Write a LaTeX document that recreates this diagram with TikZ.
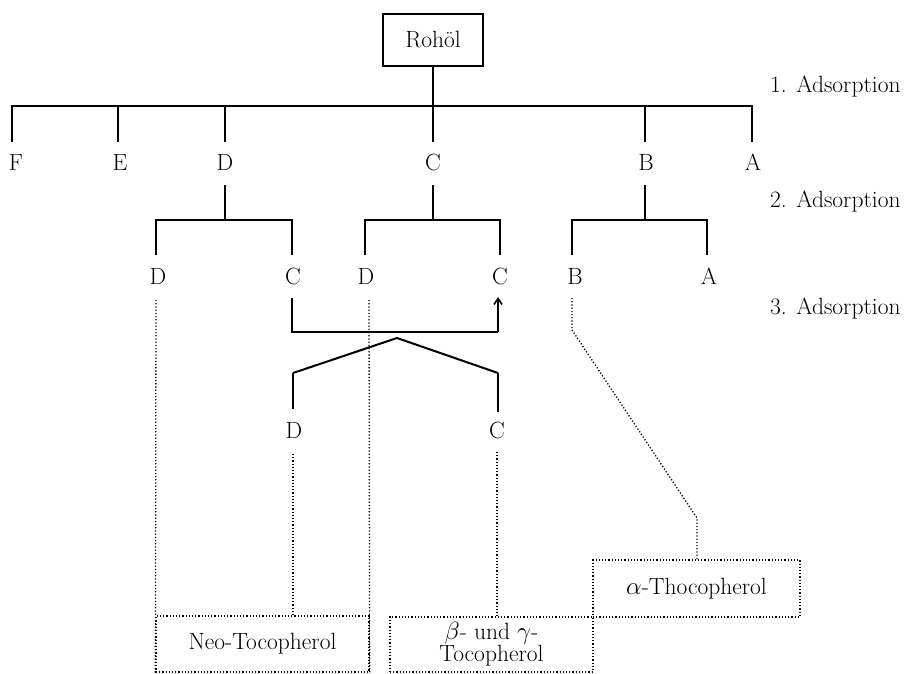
\documentclass[tikz,border=0pt]{standalone}
\usetikzlibrary{arrows.meta}
\begin{document}
\begin{tikzpicture}[x=1pt,y=-1pt,
  txt/.style={font=\fontsize{23.5}{27}\selectfont, inner sep=0pt},
  sol/.style={line width=2pt},
  dots/.style={line width=1.3pt, dash pattern=on 1.2pt off 2pt},
  dotbox/.style={draw, line width=1.3pt, dash pattern=on 1.2pt off 2pt, inner sep=0pt}]
\useasboundingbox (0,0) rectangle (907,673);

% root
\node[draw, sol, minimum width=100pt, minimum height=52pt, txt] (roh) at (433,40) {Rohöl};
\coordinate (j1) at (433,106);

% level 1 labels
\node[txt] (F1) at (16,162) {F};
\node[txt] (E1) at (120,162) {E};
\node[txt] (D1) at (225,162) {D};
\node[txt] (C1) at (433,162) {C};
\node[txt] (B1) at (646,162) {B};
\node[txt] (A1) at (753,162) {A};

% adsorption labels
\node[txt, anchor=west] (ad1) at (770,86) {1. Adsorption};
\node[txt, anchor=west] (ad2) at (770,201) {2. Adsorption};
\node[txt, anchor=west] (ad3) at (770,308) {3. Adsorption};

% level 1 tree
\coordinate (fF) at (12,142);
\coordinate (fE) at (118,142);
\coordinate (fD) at (225,142);
\coordinate (fC) at (433,142);
\coordinate (fB) at (645,142);
\coordinate (fA) at (752,142);
\draw[sol] (roh.south) -- (j1);
\draw[sol] (fF) -- (fF |- j1) -- (fA |- j1) -- (fA);
\draw[sol] (fE) -- (fE |- j1);
\draw[sol] (fD) -- (fD |- j1);
\draw[sol] (fC) -- (fC |- j1);
\draw[sol] (fB) -- (fB |- j1);

% level 2 labels
\node[txt] (D2a) at (158,276) {D};
\node[txt] (C2a) at (293,276) {C};
\node[txt] (D2b) at (366,276) {D};
\node[txt] (C2b) at (500,276) {C};
\node[txt] (B2) at (575,276) {B};
\node[txt] (A2) at (709,276) {A};

% level 2 trees
\coordinate (gD) at (225,185);
\coordinate (gC) at (433,185);
\coordinate (gB) at (645,185);
\coordinate (hD) at (225,220);
\coordinate (hC) at (433,220);
\coordinate (hB) at (645,220);
\draw[sol] (gD) -- (hD);
\draw[sol] (156,255) -- (156,220) -- (292,220) -- (292,255);
\draw[sol] (gC) -- (hC);
\draw[sol] (365,255) -- (365,220) -- (500,220) -- (500,255);
\draw[sol] (gB) -- (hB);
\draw[sol] (572,255) -- (572,220) -- (707,220) -- (707,255);

% recycling loop C -> C
\coordinate (lp1) at (292,298);
\coordinate (lp2) at (292,332);
\coordinate (lp3) at (498,332);
\coordinate (lp4) at (498,297);
\draw[sol] (lp1) -- (lp2) -- (lp3);
\draw[line width=1.6pt, -{Straight Barb[length=6pt,width=8pt]}] (lp3) -- (lp4);

% level 3
\coordinate (apex) at (397,338);
\coordinate (vl) at (293,373);
\coordinate (vr) at (498,373);
\node[txt] (D3) at (294,430) {D};
\node[txt] (C3) at (497,430) {C};
\draw[sol] (vl) -- (apex) -- (vr);
\draw[sol] (vl) -- (293,409);
\draw[sol] (vr) -- (498,412);

% result boxes
\node[dotbox, minimum width=213pt, minimum height=56pt, txt] (neo) at (262.5,644) {Neo-Tocopherol};
\node[dotbox, minimum width=203pt, minimum height=55pt, txt, align=center, font=\fontsize{23.5}{21}\selectfont] (bg) at (491.5,644.5) {$\beta$- und $\gamma$-\\Tocopherol};
\node[dotbox, minimum width=207pt, minimum height=57pt, txt] (alpha) at (696.5,588.5) {$\alpha$-Thocopherol};

% dotted connectors
\coordinate (dDa) at (156,300);
\coordinate (dDb) at (369,300);
\coordinate (dD3) at (293,454);
\coordinate (dC3) at (497,452);
\coordinate (dB) at (572,298);
\coordinate (dB1) at (572,330);
\coordinate (dB2) at (697,518);
\draw[dots] (dDa) -- (neo.south west);
\draw[dots] (dDb) -- (neo.south east);
\draw[dots] (dD3) -- (dD3 |- neo.north);
\draw[dots] (dC3) -- (dC3 |- bg.north);
\draw[dots] (dB) -- (dB1) -- (dB2) -- (alpha.north -| dB2);
\end{tikzpicture}
\end{document}
